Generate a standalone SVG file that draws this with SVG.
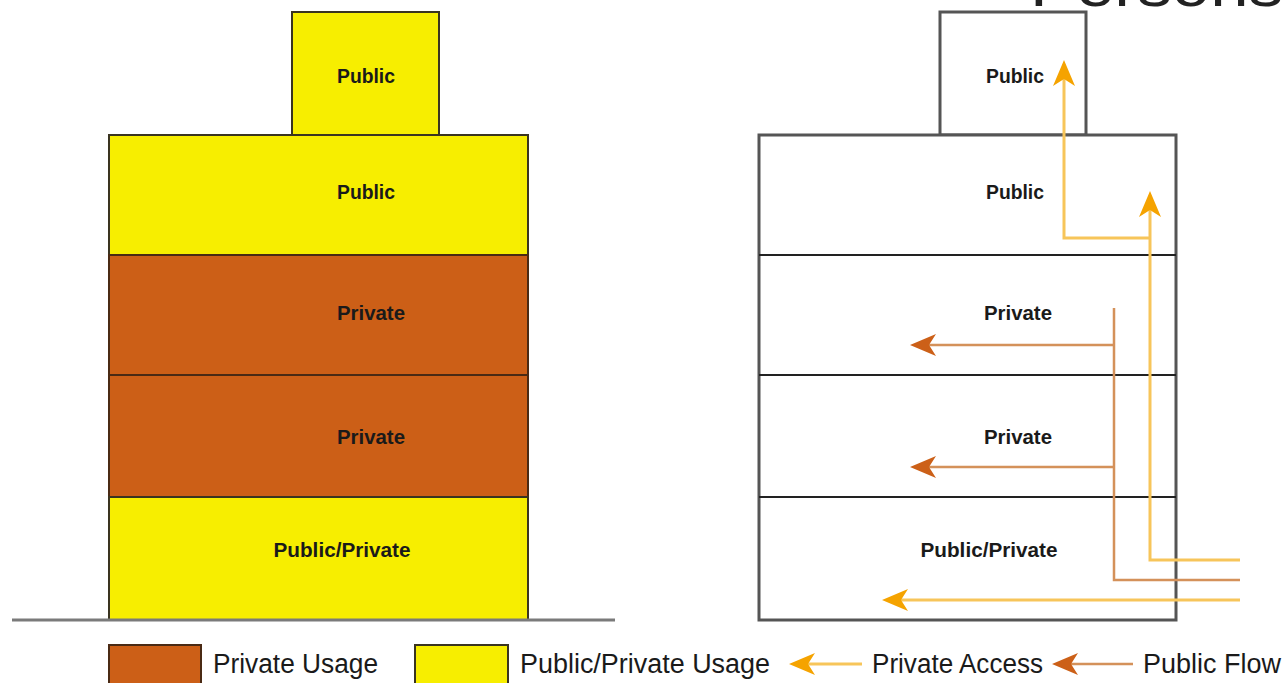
<svg xmlns="http://www.w3.org/2000/svg" width="1283" height="683" viewBox="0 0 1283 683">
<style>
.lbl{font-family:"Liberation Sans",Arial,sans-serif;font-size:20px;font-weight:bold;fill:#1a1a1a;text-anchor:middle}
.leg{font-family:"Liberation Sans",Arial,sans-serif;font-size:27px;fill:#1a1a1a}
.yel{fill:#f7ee00;stroke:#3a3420;stroke-width:2}
.org{fill:#cc5f17;stroke:#4a2a14;stroke-width:2}
.wht{fill:#fff;stroke:#555;stroke-width:3}
.sep{stroke:#222;stroke-width:2}
.pa{fill:none;stroke:#f7c55a;stroke-width:3}
.pf{fill:none;stroke:#d4915a;stroke-width:2.5}
</style>
<defs>
<marker id="ahY" markerUnits="userSpaceOnUse" markerWidth="26" markerHeight="22" refX="19" refY="11" orient="auto" viewBox="0 0 26 22">
<path d="M0,0 L26,11 L0,22 L7,11 z" fill="#f5a300"/>
</marker>
<marker id="ahO" markerUnits="userSpaceOnUse" markerWidth="26" markerHeight="22" refX="19" refY="11" orient="auto" viewBox="0 0 26 22">
<path d="M0,0 L26,11 L0,22 L7,11 z" fill="#cc6018"/>
</marker>
</defs>
<rect width="1283" height="683" fill="#fff"/>
<text x="1030" y="6" textLength="253" lengthAdjust="spacingAndGlyphs" style="font-family:'Liberation Sans',Arial,sans-serif;font-size:60px;fill:#222">Persons</text>

<!-- Left building -->
<g id="left-top-public">
<rect class="yel" x="292" y="12" width="147" height="123"/>
<text class="lbl" x="366" y="83" textLength="58" lengthAdjust="spacingAndGlyphs">Public</text>
</g>
<g id="left-public">
<rect class="yel" x="109" y="135" width="419" height="120"/>
<text class="lbl" x="366" y="199" textLength="58" lengthAdjust="spacingAndGlyphs">Public</text>
</g>
<g id="left-private-1">
<rect class="org" x="109" y="255" width="419" height="120"/>
<text class="lbl" x="371" y="320" textLength="68" lengthAdjust="spacingAndGlyphs">Private</text>
</g>
<g id="left-private-2">
<rect class="org" x="109" y="375" width="419" height="122"/>
<text class="lbl" x="371" y="444" textLength="68" lengthAdjust="spacingAndGlyphs">Private</text>
</g>
<g id="left-public-private">
<rect class="yel" x="109" y="497" width="419" height="123"/>
<text class="lbl" x="342" y="557" textLength="137" lengthAdjust="spacingAndGlyphs">Public/Private</text>
</g>
<line id="ground" x1="12" y1="620" x2="615" y2="620" stroke="#7a7a7a" stroke-width="3"/>

<!-- Right building -->
<g id="right-top-public">
<rect class="wht" x="940" y="12" width="146" height="123"/>
<text class="lbl" x="1015" y="83" textLength="58" lengthAdjust="spacingAndGlyphs">Public</text>
</g>
<g id="right-body">
<rect class="wht" x="759" y="135" width="417" height="485"/>
</g>
<g id="right-public">
<text class="lbl" x="1015" y="199" textLength="58" lengthAdjust="spacingAndGlyphs">Public</text>
</g>
<g id="right-private-1">
<line class="sep" x1="759" y1="255" x2="1176" y2="255"/>
<text class="lbl" x="1018" y="320" textLength="68" lengthAdjust="spacingAndGlyphs">Private</text>
</g>
<g id="right-private-2">
<line class="sep" x1="759" y1="375" x2="1176" y2="375" stroke="#555"/>
<text class="lbl" x="1018" y="444" textLength="68" lengthAdjust="spacingAndGlyphs">Private</text>
</g>
<g id="right-public-private">
<line class="sep" x1="759" y1="497" x2="1176" y2="497"/>
<text class="lbl" x="989" y="557" textLength="137" lengthAdjust="spacingAndGlyphs">Public/Private</text>
</g>

<!-- Connectors -->
<g id="connectors">
<polyline class="pa" points="1240,560 1150,560 1150,198" marker-end="url(#ahY)"/>
<polyline class="pa" points="1150,238 1064,238 1064,67" marker-end="url(#ahY)"/>
<polyline class="pf" points="1240,580 1114,580 1114,308"/>
<line class="pf" x1="1114" y1="345" x2="917" y2="345" marker-end="url(#ahO)"/>
<line class="pf" x1="1114" y1="467" x2="917" y2="467" marker-end="url(#ahO)"/>
<line class="pa" x1="1240" y1="600" x2="889" y2="600" marker-end="url(#ahY)"/>
</g>

<!-- Legend -->
<g id="legend-private-usage">
<rect class="org" x="109" y="645" width="92" height="42"/>
<text class="leg" x="213" y="673" textLength="165" lengthAdjust="spacingAndGlyphs">Private Usage</text>
</g>
<g id="legend-public-private-usage">
<rect class="yel" x="415" y="645" width="93" height="42"/>
<text class="leg" x="520" y="673" textLength="250" lengthAdjust="spacingAndGlyphs">Public/Private Usage</text>
</g>
<g id="legend-private-access">
<line class="pa" x1="862" y1="664" x2="796" y2="664" marker-end="url(#ahY)"/>
<text class="leg" x="872" y="673" textLength="171" lengthAdjust="spacingAndGlyphs">Private Access</text>
</g>
<g id="legend-public-flow">
<line class="pf" x1="1133" y1="664" x2="1059" y2="664" marker-end="url(#ahO)"/>
<text class="leg" x="1143" y="673" textLength="138" lengthAdjust="spacingAndGlyphs">Public Flow</text>
</g>
</svg>
